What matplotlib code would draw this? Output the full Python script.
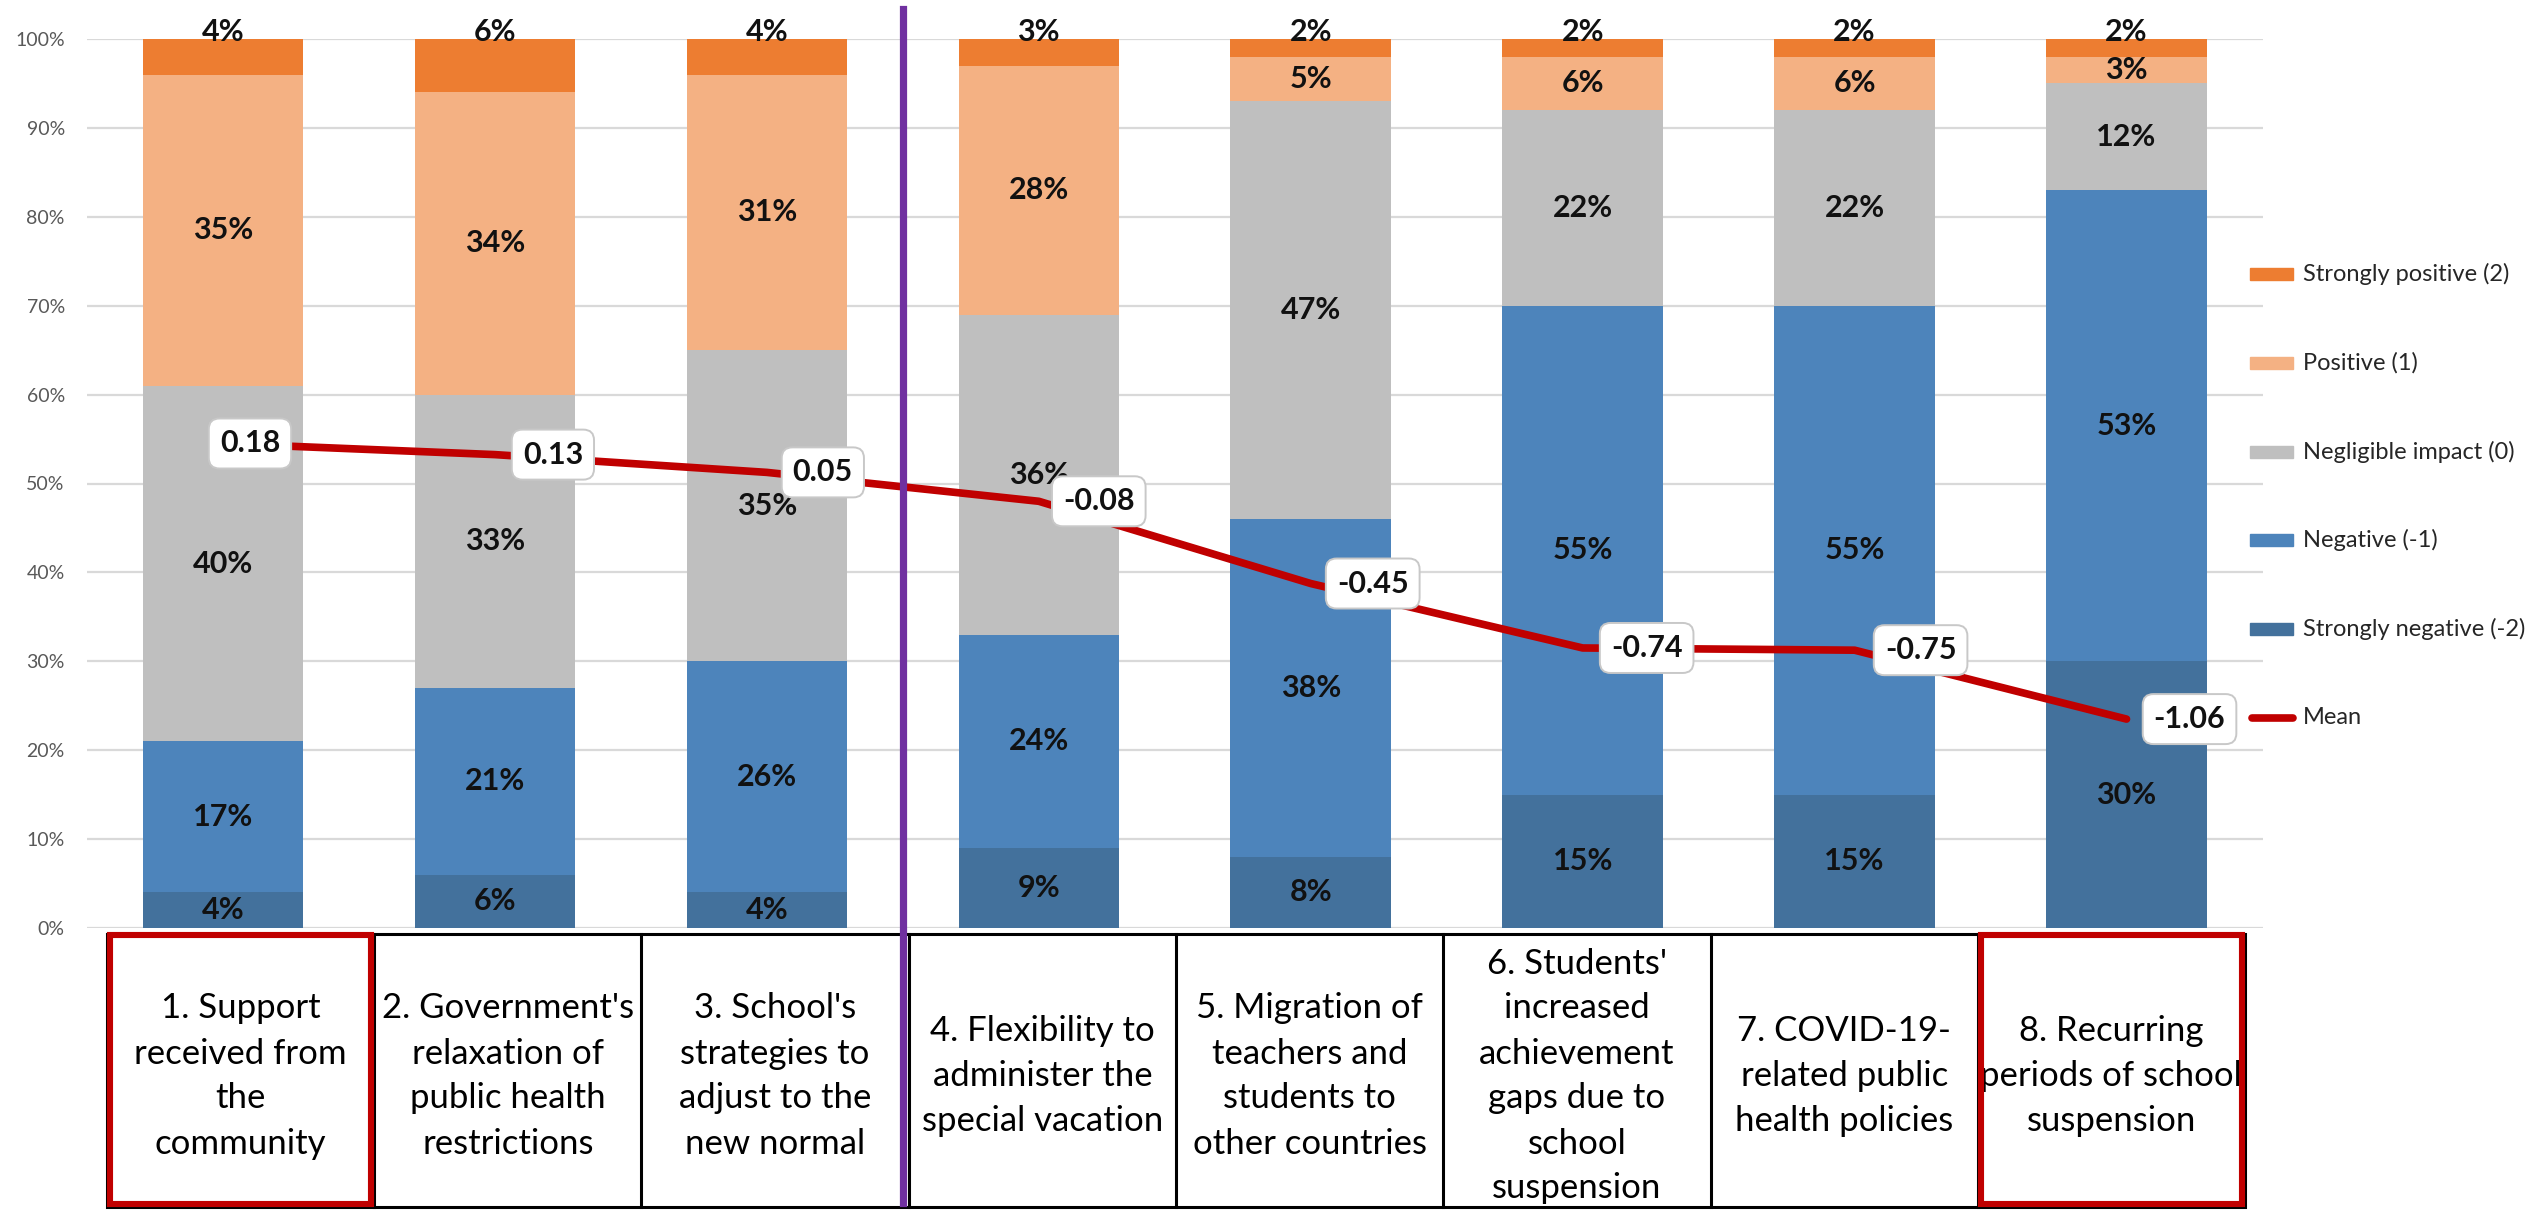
import matplotlib
matplotlib.use("Agg")
import matplotlib.pyplot as plt
import matplotlib.transforms as mtransforms
from matplotlib.patches import Rectangle
from matplotlib.lines import Line2D
import numpy as np

# ---------------- data ----------------
categories = [
    "1. Support\nreceived from\nthe\ncommunity",
    "2. Government's\nrelaxation of\npublic health\nrestrictions",
    "3. School's\nstrategies to\nadjust to the\nnew normal",
    "4. Flexibility to\nadminister the\nspecial vacation",
    "5. Migration of\nteachers and\nstudents to\nother countries",
    "6. Students'\nincreased\nachievement\ngaps due to\nschool\nsuspension",
    "7. COVID-19-\nrelated public\nhealth policies",
    "8. Recurring\nperiods of school\nsuspension",
]
strongly_negative = [4, 6, 4, 9, 8, 15, 15, 30]
negative = [17, 21, 26, 24, 38, 55, 55, 53]
negligible = [40, 33, 35, 36, 47, 22, 22, 12]
positive = [35, 34, 31, 28, 5, 6, 6, 3]
strongly_positive = [4, 6, 4, 3, 2, 2, 2, 2]
means = [0.18, 0.13, 0.05, -0.08, -0.45, -0.74, -0.75, -1.06]
series_names = ["Strongly negative (-2)", "Negative (-1)", "Negligible impact (0)",
                "Positive (1)", "Strongly positive (2)"]
mean_name = "Mean"
y_ticks = [0, 10, 20, 30, 40, 50, 60, 70, 80, 90, 100]
highlighted = [0, 7]
divider_after = 2  # purple divider between category 3 and 4

# ---------------- style ----------------
colors = ["#43719C", "#4D84BB", "#BFBFBF", "#F4B183", "#ED7D31"]
mean_color = "#C00000"
label_dx = [27, 58, 56, 60, 62, 64, 66, 63]  # label offset (pixels) from the point
FONT = "Lato"
plt.rcParams["font.family"] = [FONT, "DejaVu Sans"]

W, H = 2526, 1210
fig = plt.figure(figsize=(W / 100, H / 100), dpi=100)


def fx(px):
    return px / W


def fy(py):
    return 1 - py / H


ax = fig.add_axes([fx(87), fy(928), fx(2262.5) - fx(87), fy(39) - fy(928)])
series = [strongly_negative, negative, negligible, positive, strongly_positive]
x = np.arange(len(categories))
bottom = np.zeros(len(categories))
for si, (name, vals, col) in enumerate(zip(series_names, series, colors)):
    vals = np.array(vals, dtype=float)
    ax.bar(x, vals, 0.59, bottom=bottom, color=col, zorder=2, label=name)
    for xi, v, b in zip(x, vals, bottom):
        if si == len(series) - 1:
            yl = 100.8
        else:
            yl = b + v / 2
        ax.text(xi, yl, f"{int(v)}%", ha="center", va="center", fontsize=22,
                fontweight="bold", color="#111111", zorder=4)
    bottom += vals

ax.set_xlim(-0.5, len(categories) - 0.5)
ax.set_ylim(0, 100)
ax.set_yticks(y_ticks)
ax.set_yticklabels([f"{t}%" for t in y_ticks])
ax.yaxis.grid(True, color="#D9D9D9", lw=1.6)
ax.set_axisbelow(True)
ax.tick_params(axis="y", length=0, pad=16, labelsize=14, labelcolor="#595959")
ax.set_xticks([])
for s in ax.spines.values():
    s.set_visible(False)

# mean line on secondary scale
ax2 = ax.twinx()
ax2.set_ylim(-2, 2)
ax2.axis("off")
ax2.plot(x, means, color=mean_color, lw=5.5, solid_capstyle="round", zorder=3)
for xi, m, dx in zip(x, means, label_dx):
    ax2.annotate(f"{m:.2f}", (xi, m), xytext=(dx, 0), textcoords="offset pixels",
                 ha="center", va="center", fontsize=22, fontweight="bold",
                 color="#111111", zorder=5,
                 bbox=dict(boxstyle="round,pad=0.36,rounding_size=0.35",
                           fc="white", ec="#C8C8C8", lw=1.4))

# purple divider
blend = mtransforms.blended_transform_factory(ax.transData, fig.transFigure)
xd = divider_after + 0.5
fig.add_artist(Line2D([xd, xd], [fy(9), fy(1203)], color="#7030A0", lw=5.2,
                      transform=blend, zorder=10))

# table of category labels
t_left, t_right, t_top, t_bot = 107, 2245, 934, 1207
n = len(categories)
colw = (t_right - t_left) / n
tf = fig.transFigure
fig.add_artist(Rectangle((fx(t_left), fy(t_bot)), fx(t_right) - fx(t_left),
                         fy(t_top) - fy(t_bot), fill=False, ec="black", lw=2.2,
                         transform=tf))
for i in range(1, n):
    xb = t_left + i * colw
    fig.add_artist(Line2D([fx(xb), fx(xb)], [fy(t_top), fy(t_bot)], color="black",
                          lw=2.2, transform=tf))
for i, lab in enumerate(categories):
    cx = t_left + (i + 0.5) * colw
    fig.text(fx(cx), fy(1076), lab, ha="center", va="center", fontsize=25,
             linespacing=1.5, color="black")
for i in highlighted:
    xl = t_left + i * colw + 3
    fig.add_artist(Rectangle((fx(xl), fy(t_bot - 3)), fx(colw - 6), fy(t_top + 1) - fy(t_bot - 3),
                             fill=False, ec="#C00000", lw=4.4, transform=tf, zorder=11))

# legend (drawn manually)
leg_names = list(reversed(series_names)) + [mean_name]
leg_cols = list(reversed(colors)) + [mean_color]
for i, (nm, col) in enumerate(zip(leg_names, leg_cols)):
    yc = 274 + i * 88.8
    if nm == mean_name:
        fig.add_artist(Line2D([fx(2252), fx(2293)], [fy(yc), fy(yc)], color=col, lw=5.5,
                              solid_capstyle="round", transform=tf))
    else:
        fig.add_artist(Rectangle((fx(2250), fy(yc + 6)), fx(43), 12 / H, color=col,
                                 transform=tf))
    fig.text(fx(2303), fy(yc), nm, ha="left", va="center", fontsize=17, color="#262626")

fig.savefig("out.png", dpi=100)
